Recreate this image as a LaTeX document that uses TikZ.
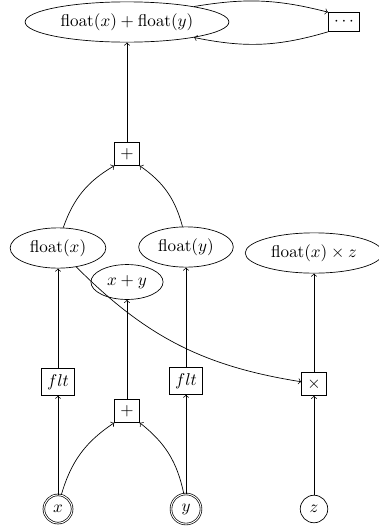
\documentclass[tikz,border=0pt]{standalone}
\usetikzlibrary{shapes.geometric}
\begin{document}
\begin{tikzpicture}[x=0.585pt,y=-0.585pt,
  box/.style={draw,rectangle},
  val/.style={draw,ellipse},
  inp/.style={draw,circle,double},
  var/.style={draw,circle},
  every edge/.style={draw,->}]
\useasboundingbox (0,0) rectangle (379,531);
\node[inp] (x) at (58,509) {$x$};
\node[inp] (y) at (186,509) {$y$};
\node[var] (z) at (314,509) {$z$};
\node[box] (fltx) at (58,382) {$flt$};
\node[box] (flty) at (186,381) {$flt$};
\node[box] (plusb) at (127,411) {$+$};
\node[box] (times) at (314,384) {$\times$};
\node[val] (fx) at (58,248) {$\mathrm{float}(x)$};
\node[val] (fy) at (186,247) {$\mathrm{float}(y)$};
\node[val] (xy) at (127,282) {$x+y$};
\node[val] (fxz) at (314,253) {$\mathrm{float}(x)\times z$};
\node[box] (plust) at (127,154) {$+$};
\node[val] (sum) at (127,22) {$\mathrm{float}(x)+\mathrm{float}(y)$};
\node[box] (dots) at (344,22) {$\cdots$};
\path (x) edge (fltx)
      (fltx) edge (fx)
      (y) edge (flty)
      (flty) edge (fy)
      (x) edge[bend left=20] (plusb.south west)
      (y) edge[bend right=20] (plusb.south east)
      (plusb) edge (xy)
      (z) edge (times)
      (times) edge (fxz)
      (fx) edge[bend right=18] (times)
      (fx) edge[bend left=20] (plust.south west)
      (fy) edge[bend right=20] (plust.south east)
      (plust) edge (sum)
      (sum.13) edge[bend left=12] (dots.north west)
      (dots.south west) edge[bend left=14] (sum.-13);
\end{tikzpicture}
\end{document}
